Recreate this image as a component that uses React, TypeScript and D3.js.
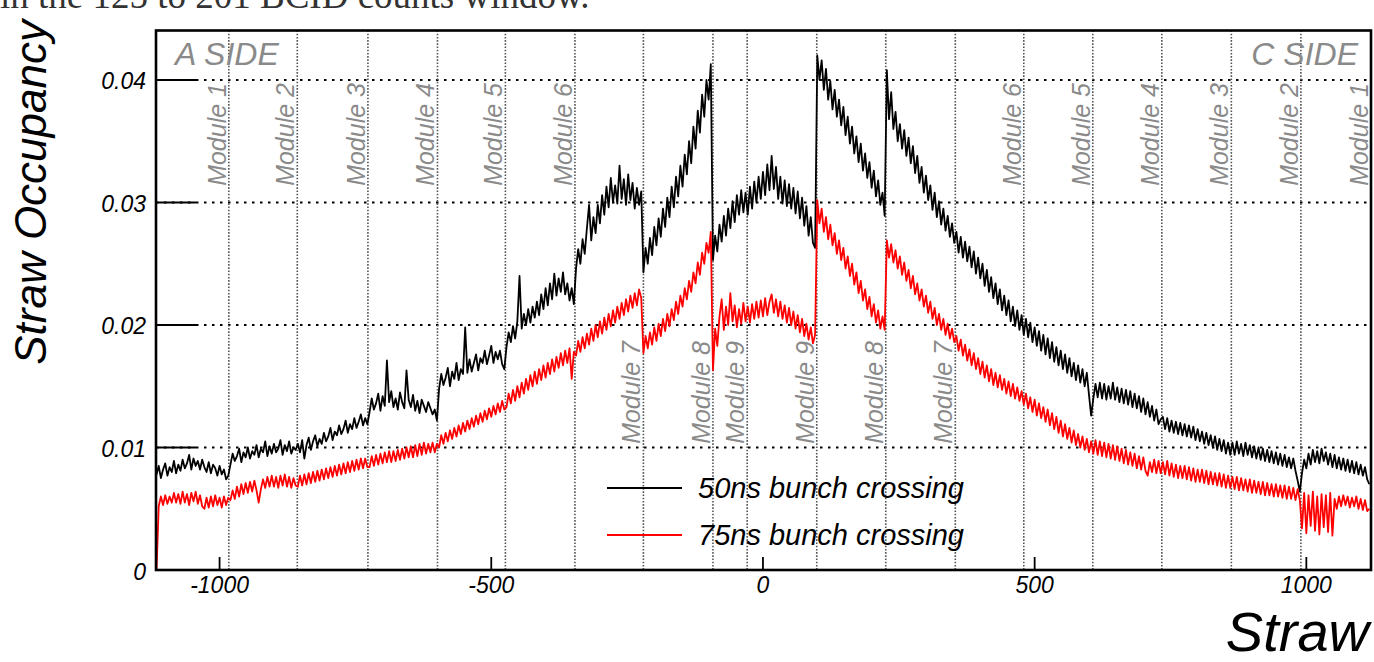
import React from 'react';
import * as d3 from 'd3';

// Straw number of the first bin and bin step
const STRAW_START = -1116;
const STRAW_STEP = 4;

// Straw occupancy (per mille), 50 ns bunch crossing
// (rows grouped by module, A side module 1 ... C side module 1)
const occ50ns = [
  7.8, 8.5, 7.5, 8.2, 8.7, 7.7, 8.4, 8.0, 8.9, 7.9, 8.6, 8.1, 9.0, 8.3, 8.7, 9.4, 8.2, 9.1, 8.5, 8.9,
  8.2, 9.0, 8.4, 8.0, 8.8, 7.9, 8.6, 8.3, 7.7, 8.5, 7.8, 8.2, 7.4, 7.7,
  8.6, 9.5, 8.9, 9.3, 9.9, 8.8, 9.6, 9.2, 10.0, 9.1, 9.7, 9.4, 10.2, 9.2, 9.9, 9.6, 10.5, 9.3, 10.1, 9.5,
  10.3, 9.6, 9.9, 10.6, 9.4, 10.2, 9.7, 10.5, 9.5, 10.0, 9.8,
  10.3, 9.6, 10.6, 9.1, 10.2, 10.8, 9.8, 10.5, 11.0, 10.1, 10.7, 10.3, 11.2, 10.5, 10.9, 11.6, 10.6, 11.3, 11.0, 11.8,
  11.1, 11.5, 12.2, 11.2, 11.9, 11.5, 12.4, 11.6, 12.1, 12.7, 11.8, 12.4, 11.9,
  12.9, 14.0, 13.1, 13.6, 14.4, 13.0, 14.2, 13.4, 17.1, 13.7, 14.6, 13.3, 14.0, 13.1, 14.5, 13.7, 13.2, 16.3, 13.9, 13.3,
  14.3, 13.0, 13.8, 12.8, 13.9, 13.4, 12.9, 13.7, 13.2, 12.7, 13.1, 12.2,
  14.8, 16.0, 15.1, 15.7, 16.5, 15.0, 16.2, 15.6, 16.9, 15.5, 16.4, 16.0, 19.8, 16.1, 17.2, 16.2, 16.9, 17.6, 16.3, 17.3,
  16.9, 17.9, 16.8, 17.5, 18.3, 16.9, 17.8, 17.2, 17.9, 16.8, 16.4,
  18.2, 19.4, 18.6, 19.9, 18.9, 20.3, 24.0, 19.7, 20.9, 20.0, 21.3, 20.2, 21.5, 20.6, 21.9, 20.8, 22.5, 21.3, 23.0, 21.6,
  23.4, 22.1, 24.2, 22.4, 23.8, 22.7, 24.3, 22.5, 23.4, 22.0, 23.0, 21.7,
  24.6, 26.2, 25.0, 27.0, 25.8, 27.9, 29.8, 26.9, 28.8, 27.5, 29.8, 28.3, 30.6, 29.0, 31.3, 29.6, 32.0, 30.0, 31.4, 29.9,
  33.0, 30.3, 31.9, 29.8, 32.3, 30.2, 31.6, 29.5, 31.2, 29.8, 30.9,
  24.3, 26.3, 25.0, 27.1, 25.7, 28.0, 26.5, 28.7, 27.2, 29.5, 28.0, 30.4, 28.8, 31.3, 29.6, 32.1, 30.5, 33.0, 31.3, 33.9,
  32.3, 35.0, 33.2, 36.2, 34.4, 37.5, 35.7, 38.8, 37.0, 40.0, 38.4, 41.3,
  25.3, 27.3, 26.0, 28.2, 26.8, 28.9, 27.3, 29.5, 27.9, 30.1, 28.4, 30.6, 29.0, 31.0, 29.2, 30.8, 29.0, 31.3, 29.5, 31.7,
  30.0, 32.1, 30.3, 32.5, 30.6, 33.1, 31.0, 33.8, 31.1, 32.9, 30.3, 32.1, 29.9, 31.8, 29.7, 31.5, 29.5, 31.2, 29.1, 30.9,
  28.7, 30.4, 28.1, 29.7, 27.3, 28.8, 26.7, 26.3,
  42.0, 40.0, 41.6, 39.2, 40.9, 38.4, 39.9, 37.6, 39.2, 37.0, 38.4, 36.3, 37.8, 35.5, 37.0, 34.8, 36.2, 34.0, 35.4, 33.3,
  34.8, 32.6, 34.0, 32.0, 33.3, 31.2, 32.6, 30.5, 31.8, 29.8, 30.8, 28.9,
  40.8, 36.8, 39.0, 36.0, 37.4, 35.0, 36.4, 34.4, 35.9, 33.8, 35.3, 33.2, 34.6, 32.4, 33.8, 31.6, 32.9, 30.8, 32.2, 30.2,
  31.4, 29.4, 30.8, 28.8, 30.1, 28.2, 29.5, 27.7, 28.9, 27.2, 28.3, 26.7,
  27.6, 25.9, 27.2, 25.5, 26.8, 25.2, 26.4, 24.7, 26.0, 24.2, 25.5, 23.8, 25.0, 23.2, 24.5, 22.7, 23.9, 22.2, 23.4, 21.7,
  22.9, 21.2, 22.4, 20.8, 22.0, 20.3, 21.5, 19.9, 21.2, 19.6, 20.8,
  19.2, 20.5, 19.0, 20.2, 18.6, 19.8, 18.3, 19.5, 17.9, 19.2, 17.6, 18.9, 17.3, 18.6, 17.0, 18.2, 16.7, 17.9, 16.4, 17.6,
  16.1, 17.3, 15.8, 16.9, 15.5, 16.7, 15.3, 16.4, 15.0, 16.1, 14.3, 12.6,
  14.0, 15.2, 14.1, 15.3, 14.0, 15.2, 13.9, 15.0, 14.0, 15.3, 13.9, 14.9, 13.7, 14.8, 13.6, 14.7, 13.5, 14.6, 13.3, 14.4,
  13.2, 14.2, 12.9, 14.0, 12.7, 13.7, 12.5, 13.4, 12.2, 13.1, 11.9, 12.3,
  12.5, 11.5, 12.4, 11.3, 12.2, 11.2, 12.1, 11.1, 12.0, 11.0, 11.9, 10.9, 11.8, 10.8, 11.7, 10.6, 11.5, 10.5, 11.3, 10.3,
  11.2, 10.2, 11.0, 10.0, 10.9, 9.8, 10.7, 9.7, 10.6, 9.5, 10.4, 9.4,
  10.4, 9.4, 10.5, 9.5, 10.3, 9.3, 10.4, 9.4, 10.2, 9.2, 10.1, 9.1, 10.0, 9.0, 9.9, 8.9, 9.8, 8.8, 9.7, 8.7,
  9.6, 8.6, 9.5, 8.5, 9.4, 8.4, 9.2, 8.3, 9.1, 8.1, 7.3, 6.4,
  7.9, 9.0, 8.3, 9.5, 8.6, 9.8, 8.8, 9.7, 8.7, 9.9, 8.9, 9.6, 8.6, 9.5, 8.4, 9.4, 8.3, 9.2, 8.2, 9.1,
  8.1, 9.0, 8.0, 8.9, 7.9, 8.8, 7.8, 8.6, 7.7, 8.4, 7.4, 7.0,
];

// Straw occupancy (per mille), 75 ns bunch crossing
const occ75ns = [
  0, 5.2, 6.0, 5.3, 6.1, 5.4, 6.0, 5.5, 6.3, 5.5, 6.2, 5.4, 6.4, 5.5, 6.2, 5.3, 6.3, 5.6, 6.4, 5.4,
  6.1, 5.2, 5.0, 5.9, 5.1, 6.0, 5.2, 6.1, 5.3, 5.9, 5.1, 6.0, 5.3, 5.9,
  5.7, 6.5, 5.8, 6.8, 6.0, 7.0, 6.2, 7.1, 6.3, 7.2, 6.4, 7.3, 6.5, 5.5, 6.6, 7.4, 6.7, 7.6, 6.8, 7.7,
  6.8, 7.6, 6.7, 7.7, 6.9, 7.8, 6.8, 7.6, 6.7, 7.5, 6.9,
  6.8, 7.7, 6.9, 7.8, 7.0, 7.9, 7.1, 8.0, 7.2, 8.1, 7.3, 8.2, 7.4, 8.3, 7.5, 8.4, 7.6, 8.5, 7.7, 8.6,
  7.8, 8.7, 7.9, 8.8, 8.0, 8.9, 8.1, 9.0, 8.2, 9.1, 8.3, 9.1, 8.4,
  8.4, 9.3, 8.5, 9.4, 8.6, 9.5, 8.7, 9.6, 8.8, 9.7, 8.8, 9.7, 8.9, 9.8, 9.0, 9.9, 9.1, 10.0, 9.2, 10.1,
  9.2, 10.2, 9.3, 10.3, 9.4, 10.4, 9.5, 10.3, 9.6, 10.4, 9.6, 10.3,
  10.0, 11.0, 10.3, 11.2, 10.5, 11.4, 10.7, 11.6, 10.9, 11.8, 11.1, 12.0, 11.3, 12.2, 11.5, 12.4, 11.7, 12.6, 11.9, 12.8,
  12.1, 13.0, 12.3, 13.2, 12.5, 13.4, 12.7, 13.6, 12.9, 13.8, 13.1,
  13.3, 14.4, 13.6, 14.7, 13.8, 15.0, 14.1, 15.3, 14.4, 15.6, 14.7, 15.9, 15.0, 16.2, 15.2, 16.4, 15.5, 16.7, 15.7, 16.9,
  16.0, 17.2, 16.2, 17.4, 16.5, 17.7, 16.7, 17.9, 16.9, 18.1, 15.6, 17.8,
  17.5, 18.7, 17.8, 19.0, 18.1, 19.3, 18.4, 19.7, 18.7, 20.0, 19.0, 20.3, 19.3, 20.6, 19.6, 20.9, 19.9, 21.2, 20.2, 21.5,
  20.5, 21.8, 20.8, 22.1, 21.1, 22.4, 21.4, 22.6, 21.6, 22.9, 22.2,
  17.7, 19.1, 18.1, 19.4, 18.4, 19.8, 18.7, 20.1, 19.1, 20.5, 19.5, 20.9, 19.9, 21.3, 20.4, 21.9, 20.9, 22.4, 21.5, 23.0,
  22.1, 23.6, 22.7, 24.3, 23.4, 25.1, 24.1, 25.9, 25.0, 26.7, 25.9, 27.6,
  16.3, 19.7, 18.3, 20.7, 22.1, 19.6, 21.5, 20.0, 22.6, 20.3, 21.6, 19.8, 21.3, 20.1, 21.8, 20.3, 21.5, 20.2, 21.7, 20.5,
  21.9, 20.6, 22.0, 20.7, 22.2, 20.8, 21.9, 22.5, 21.0, 22.1, 20.7, 21.9, 20.5, 21.6, 20.2, 21.4, 20.0, 21.1, 19.7, 20.8,
  19.4, 20.5, 19.1, 20.1, 18.8, 19.8, 18.5, 19.2,
  30.2, 28.3, 29.5, 27.6, 28.8, 27.0, 28.2, 26.5, 27.5, 25.8, 26.9, 25.3, 26.3, 24.6, 25.6, 24.0, 25.0, 23.3, 24.3, 22.6,
  23.6, 22.0, 22.9, 21.3, 22.3, 20.7, 21.7, 20.2, 21.2, 19.7, 20.7, 19.6,
  26.9, 25.5, 26.6, 25.1, 26.1, 24.6, 25.6, 24.1, 25.1, 23.6, 24.5, 23.0, 24.0, 22.5, 23.4, 22.0, 22.9, 21.5, 22.4, 21.0,
  21.9, 20.5, 21.4, 20.0, 20.9, 19.6, 20.5, 19.2, 20.1, 18.9, 19.7, 18.6,
  19.1, 17.9, 18.8, 17.5, 18.4, 17.1, 18.0, 16.7, 17.7, 16.4, 17.3, 16.0, 17.0, 15.7, 16.7, 15.4, 16.4, 15.1, 16.1, 14.9,
  15.9, 14.7, 15.6, 14.4, 15.4, 14.2, 15.2, 14.0, 14.9, 13.8, 14.6,
  13.5, 14.4, 13.2, 14.1, 12.9, 13.9, 12.6, 13.6, 12.4, 13.3, 12.1, 13.1, 11.8, 12.8, 11.5, 12.5, 11.2, 12.2, 10.9, 11.9,
  10.7, 11.6, 10.4, 11.4, 10.2, 11.1, 10.0, 10.9, 9.8, 10.7, 9.6, 10.5,
  9.5, 10.6, 9.4, 10.5, 9.3, 10.4, 9.2, 10.3, 9.1, 10.2, 9.0, 10.1, 8.9, 9.9, 8.7, 9.8, 8.6, 9.6, 8.5, 9.5,
  8.3, 9.3, 8.2, 9.2, 8.1, 7.7, 8.8, 8.0, 9.0, 7.9, 8.9, 7.9,
  8.8, 7.8, 8.9, 7.7, 8.7, 7.6, 8.6, 7.5, 8.5, 7.5, 8.5, 7.4, 8.4, 7.3, 8.3, 7.2, 8.2, 7.2, 8.2, 7.1,
  8.1, 7.0, 8.0, 7.0, 7.9, 6.9, 7.9, 6.8, 7.8, 6.7, 7.7, 6.7,
  7.6, 6.6, 7.6, 6.5, 7.5, 6.5, 7.4, 6.4, 7.4, 6.3, 7.3, 6.3, 7.2, 6.2, 7.2, 6.1, 7.1, 6.1, 7.0, 6.0,
  7.0, 6.0, 6.9, 5.9, 6.9, 5.8, 6.8, 5.8, 6.7, 5.7, 6.6, 5.7,
  3.4, 6.3, 3.0, 6.1, 3.6, 6.4, 3.2, 6.0, 2.9, 6.2, 3.5, 6.1, 3.1, 6.3, 2.8, 5.8, 5.0, 6.0, 5.2, 6.1,
  5.3, 6.0, 5.1, 5.9, 5.2, 6.0, 5.0, 5.8, 4.9, 5.7, 4.8, 5.0,
];

const X_TICKS = [-1000, -500, 0, 500, 1000];
const Y_TICKS = [0, 0.01, 0.02, 0.03, 0.04];
const Y_TICK_LABELS = ['0', '0.01', '0.02', '0.03', '0.04'];

// module boundaries (straw number) drawn as dotted lines
const MODULE_EDGES = [-983, -857, -727, -599, -474, -346, -220, -92, -29, 99, 226, 354, 480, 607, 734, 862, 990];
// module labels, placed left of the module's right edge
const MODULE_LABELS = [
  'Module 1', 'Module 2', 'Module 3', 'Module 4', 'Module 5', 'Module 6', 'Module 7', 'Module 8', 'Module 9',
  'Module 9', 'Module 8', 'Module 7', 'Module 6', 'Module 5', 'Module 4', 'Module 3', 'Module 2', 'Module 1',
];
const MODULE_LABEL_EDGES = [-983, -857, -727, -599, -474, -346, -220, -92, -29, 99, 226, 354, 480, 607, 734, 862, 990, 1119];
const LOW_LABEL_MODULES = ['Module 7', 'Module 8', 'Module 9'];

const SERIES_NAMES = ['50ns bunch crossing', '75ns bunch crossing'];
const SERIES_COLORS = ['#000000', '#ff0000'];

const FONT = "'Liberation Sans', Arial, Helvetica, sans-serif";

export default function App() {
  const W = 1374;
  const H = 662;
  const left = 156, right = 1371, top = 30.5, bottom = 570;

  const x = d3.scaleLinear().domain([-1117, 1119]).range([left, right]);
  const y = d3.scaleLinear().domain([0, 0.04404]).range([bottom, top]);

  const line = d3
    .line<number>()
    .x((_, i) => x(STRAW_START + i * STRAW_STEP))
    .y((d) => y(d / 1000));

  const series = [occ50ns, occ75ns];
  const grey = '#8a8a8a';

  return (
    <svg width={W} height={H} style={{ position: 'absolute', left: 0, top: 0, background: '#fff' }}>
      <defs>
        <clipPath id="plotclip">
          <rect x={left} y={top} width={right - left} height={bottom - top} />
        </clipPath>
      </defs>

      {/* cut-off text from the page above */}
      <text x={0} y={8} fontFamily="'Liberation Serif', 'Times New Roman', serif" fontSize={37} fill="#333">
        in the 125 to 201 BCID counts window.
      </text>

      {/* horizontal dotted grid */}
      {Y_TICKS.filter((t) => t > 0).map((t) => (
        <line key={'gy' + t} x1={left} x2={right} y1={y(t)} y2={y(t)} stroke="#000" strokeWidth={2.2} strokeDasharray="2.5,5.5" />
      ))}

      {/* module boundary lines */}
      {MODULE_EDGES.map((m) => (
        <line key={'me' + m} x1={x(m)} x2={x(m)} y1={top} y2={bottom} stroke="#555" strokeWidth={1.6} strokeDasharray="1.6,1.6" />
      ))}

      {/* y ticks (long) */}
      {Y_TICKS.filter((t) => t > 0).map((t) => (
        <line key={'ty' + t} x1={left} x2={left + 40} y1={y(t)} y2={y(t)} stroke="#000" strokeWidth={2} />
      ))}
      {/* x ticks */}
      {X_TICKS.map((t) => (
        <line key={'tx' + t} x1={x(t)} x2={x(t)} y1={bottom} y2={bottom - 13} stroke="#000" strokeWidth={1.8} />
      ))}

      {/* data */}
      <g clipPath="url(#plotclip)">
        {series.map((s, i) => (
          <path key={'s' + i} d={line(s) || ''} fill="none" stroke={SERIES_COLORS[i]} strokeWidth={1.8} strokeLinejoin="round" />
        ))}
      </g>

      {/* module labels */}
      {MODULE_LABELS.map((lab, i) => {
        const px = x(MODULE_LABEL_EDGES[i]) - 3;
        const low = LOW_LABEL_MODULES.includes(lab);
        const yEnd = low ? 341 : 83;
        return (
          <text
            key={'ml' + i}
            transform={`translate(${px},${yEnd}) rotate(-90)`}
            textAnchor="end"
            fontFamily={FONT}
            fontStyle="italic"
            fontSize={25}
            fill={grey}
          >
            {lab}
          </text>
        );
      })}

      {/* side labels */}
      <text x={175} y={65} fontFamily={FONT} fontStyle="italic" fontSize={32} fill={grey}>A SIDE</text>
      <text x={1358} y={65} textAnchor="end" fontFamily={FONT} fontStyle="italic" fontSize={32} fill={grey}>C SIDE</text>

      {/* legend */}
      {SERIES_NAMES.map((n, i) => (
        <g key={'lg' + i}>
          <line x1={607} x2={682} y1={488 + i * 47} y2={488 + i * 47} stroke={SERIES_COLORS[i]} strokeWidth={2} />
          <text x={698} y={498 + i * 47} fontFamily={FONT} fontStyle="italic" fontSize={29} fill="#000">{n}</text>
        </g>
      ))}

      {/* frame */}
      <rect x={left} y={top} width={right - left} height={bottom - top} fill="none" stroke="#000" strokeWidth={2.6} />

      {/* y tick labels */}
      {Y_TICKS.map((t, i) => (
        <text key={'yl' + t} x={146} y={y(t) + 9.5} textAnchor="end" fontFamily={FONT} fontStyle="italic" fontSize={23} fill="#000">
          {Y_TICK_LABELS[i]}
        </text>
      ))}
      {/* x tick labels */}
      {X_TICKS.map((t) => (
        <text key={'xl' + t} x={x(t)} y={593} textAnchor="middle" fontFamily={FONT} fontStyle="italic" fontSize={23} fill="#000">
          {t}
        </text>
      ))}

      {/* axis titles */}
      <text transform="translate(46,20) rotate(-90)" textAnchor="end" fontFamily={FONT} fontStyle="italic" fontSize={44} fill="#000">
        Straw Occupancy
      </text>
      <text x={1369} y={651} textAnchor="end" fontFamily={FONT} fontStyle="italic" fontSize={56} fill="#000">
        Straw
      </text>
    </svg>
  );
}
